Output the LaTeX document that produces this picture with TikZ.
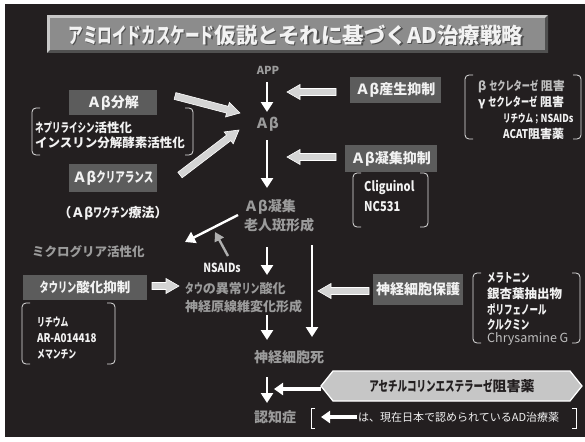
\documentclass[tikz,border=0pt]{standalone}
\usepackage{fontspec}
\usepackage{graphicx}
\setmainfont{Noto Sans CJK JP}
\usetikzlibrary{calc,arrows.meta}
\definecolor{bg}{RGB}{35,31,32}
\definecolor{gtext}{RGB}{155,155,155}
\definecolor{boxfill}{RGB}{92,92,92}
\definecolor{wtext}{RGB}{242,242,242}
\definecolor{fatfill}{RGB}{212,212,212}
\definecolor{brk}{RGB}{225,225,225}
\definecolor{tface}{RGB}{140,140,140}
\definecolor{tlight}{RGB}{200,200,200}
\definecolor{tdark}{RGB}{80,80,80}
\definecolor{hexfill}{RGB}{198,198,198}
\definecolor{narrow}{RGB}{175,175,175}
\definecolor{ltgray}{RGB}{190,190,190}
\newcommand\fsz[1]{\fontsize{#1}{#1}\selectfont}
\newcommand\hk[1]{\scalebox{0.68}[1]{#1}}
\newcommand\cn[1]{\scalebox{0.82}[1]{#1}}
\newcommand\fatarrow[2]{%
  \coordinate (fa-h) at ($(#2)!13pt!(#1)$);
  \filldraw[fatstyle] ($(#1)!3.5pt!-90:(#2)$) -- ($(fa-h)!3.5pt!-90:(#2)$) --
    ($(fa-h)!7.5pt!-90:(#2)$) -- (#2) -- ($(fa-h)!7.5pt!90:(#2)$) --
    ($(fa-h)!3.5pt!90:(#2)$) -- ($(#1)!3.5pt!90:(#2)$) -- cycle;}
\newcommand\bracketpair[4]{%
  \draw[brkstyle] (#1+8,#2) -- (#1,#2) -- (#1,#4) -- (#1+8,#4);
  \draw[brkstyle] (#3-8,#2) -- (#3,#2) -- (#3,#4) -- (#3-8,#4);}
\tikzset{
  fatstyle/.style={fill=fatfill, draw=white, line width=0.6pt, line join=miter},
  brkstyle/.style={draw=brk, line width=0.8pt, rounded corners=4pt},
  wa/.style={draw=white, line width=2.6pt, -{Triangle[width=12pt,length=10pt]}},
  wthick/.style={draw=white, line width=4.5pt, -{Triangle[width=12pt,length=9pt]}},
  ga/.style={draw=narrow, line width=2.4pt, -{Triangle[width=10pt,length=9pt]}},
  gt/.style={text=gtext, font=\bfseries\fsz{14}, inner sep=0pt},
  wt/.style={text=wtext, font=\bfseries\fsz{12.5}, inner sep=0pt, anchor=west},
  dbox/.style={fill=boxfill, text=wtext, font=\bfseries\fsz{14}, inner sep=0pt},
}
\begin{document}
\begin{tikzpicture}[x=1pt,y=-1pt]
\useasboundingbox (0,0) rectangle (585,441);
\fill[white] (0,0) rectangle (585,441);
\fill[bg] (5,4) rectangle (585,437);

% title bar
\fill[tlight] (47,15) rectangle (548,53);
\fill[tdark] (47,53) -- (548,53) -- (548,15) -- (545,18) -- (545,50) -- (50,50) -- cycle;
\fill[tface] (50,18) rectangle (545,50);
\node[text=tdark, font=\bfseries\fsz{21.5}, inner sep=0pt] (titleshadow) at (297.2,36.2) {\hk{アミロイドカスケード}仮説とそれに基づくAD治療戦略};
\node[text=wtext, font=\bfseries\fsz{21.5}, inner sep=0pt] (title) at (296,35) {\hk{アミロイドカスケード}仮説とそれに基づくAD治療戦略};

% central column
\node[gt, font=\bfseries\fsz{11}] (app) at (268,70) {APP};
\node[gt] (ab) at (267,124) {Ａβ};
\node[gt, anchor=west] (abagg1) at (244,207) {Ａβ凝集};
\node[gt, anchor=west] (abagg2) at (244,225) {老人斑形成};
\node[gt, font=\bfseries\fsz{13}, anchor=west] (tau1) at (185,289) {\hk{タウ}の異常\hk{リン}酸化};
\node[gt, font=\bfseries\fsz{13}, anchor=west] (tau2) at (185,307) {神経原線維変化形成};
\node[gt] (shi) at (289,357) {神経細胞死};
\node[gt] (ninchi) at (275,417) {認知症};
\node[gt, font=\bfseries\fsz{12.5}, anchor=west] (micro) at (32,252) {ミクログリア活性化};
\node[text=wtext, font=\bfseries\fsz{12.5}, inner sep=0pt] (nsaids) at (222,268) {\cn{NSAIDs}};

% left boxes
\node[dbox, minimum width=88, minimum height=25] (bunkai) at (113,102.5) {Ａβ分解};
\node[dbox, minimum width=88, minimum height=28] (clear) at (113,178) {Ａβ\hk{クリアランス}};
\node[text=wtext, font=\bfseries\fsz{13}, inner sep=0pt] (vaccine) at (113,213) {（Ａβ\hk{ワクチン}療法）};
\node[dbox, font=\bfseries\fsz{13.5}, minimum width=124, minimum height=25] (taubox) at (85,287.5) {\hk{タウリン}酸化抑制};

\bracketpair{32}{108}{193}{155}
\node[wt] (nep) at (35,128) {\hk{ネプリライシン}活性化};
\node[wt] (ins) at (35,143) {インスリン分解酵素活性化};

\bracketpair{22}{303}{115}{364}
\node[wt, font=\bfseries\fsz{11.5}] (li1) at (37,322) {\hk{リチウム}};
\node[wt, font=\bfseries\fsz{12}] (ar) at (37,338) {\cn{AR-A014418}};
\node[wt, font=\bfseries\fsz{11.5}] (mem) at (37,354) {\hk{メマンチン}};

% right boxes
\node[dbox, minimum width=91, minimum height=26] (sansei) at (395.5,90) {Ａβ産生抑制};
\node[dbox, minimum width=92, minimum height=27] (gyoshu) at (391,158.5) {Ａβ凝集抑制};
\node[dbox, minimum width=90, minimum height=31] (hogo) at (418,289.5) {神経細胞保護};

\bracketpair{465}{75}{581}{139}
\node[wt, font=\bfseries\fsz{12}, text=ltgray] (bsec) at (478,86) {β \hk{セクレターゼ} 阻害};
\node[wt, font=\bfseries\fsz{12}] (gsec) at (478,102) {γ \hk{セクレターゼ} 阻害};
\node[wt, font=\bfseries\fsz{11}] (lins) at (503,119) {\hk{リチウム}\hk{；}\cn{NSAIDs}};
\node[wt, font=\bfseries\fsz{12}] (acat) at (503,134) {\cn{ACAT}阻害薬};

\bracketpair{353}{173}{428}{227}
\node[wt, font=\bfseries\fsz{13.5}] (cli) at (364,188) {\cn{Cliguinol}};
\node[wt, font=\bfseries\fsz{13.5}] (nc) at (364,206) {\cn{NC531}};

\bracketpair{473}{273}{580}{343}
\node[wt] (mela) at (487,278) {\hk{メラトニン}};
\node[wt] (ginkgo) at (487,294) {銀杏葉抽出物};
\node[wt] (poly) at (487,309) {\hk{ポリフェノール}};
\node[wt] (curc) at (487,325) {\hk{クルクミン}};
\node[wt, font=\fsz{12.5}, text=ltgray] (chry) at (487,339) {Chrysamine G};

% hexagon
\filldraw[fill=hexfill, draw=white, line width=1.3pt] (321,386) -- (333,371) -- (570,371) -- (582,386) -- (570,401) -- (333,401) -- cycle;
\node[text=bg, font=\bfseries\fsz{14}, inner sep=0pt] (ache) at (452,386) {\hk{アセチルコリンエステラーゼ}阻害薬};

% legend
\draw[white, line width=0.9pt] (315,408) -- (311,408) -- (311,428) -- (315,428);
\draw[white, line width=0.9pt] (572,408) -- (576,408) -- (576,428) -- (572,428);
\node[text=wtext, font=\fsz{11}, inner sep=0pt, anchor=west] (legend) at (358,417) {は、現在日本で認められているAD治療薬};

% coordinates
\coordinate (c1) at (267,82);   \coordinate (c2) at (267,112);
\coordinate (c3) at (267,140);  \coordinate (c4) at (267,188);
\coordinate (c5) at (267,247);  \coordinate (c6) at (267,275);
\coordinate (c7) at (267,315);  \coordinate (c8) at (267,340);
\coordinate (c9) at (312,245);  \coordinate (c10) at (312,337);
\coordinate (c11) at (267,377); \coordinate (c12) at (267,403);
\coordinate (m1) at (238,215);  \coordinate (m2) at (185,242);
\coordinate (n1) at (228,256);  \coordinate (n2) at (215,232);
\coordinate (f1a) at (175,96);  \coordinate (f1b) at (240,113);
\coordinate (f2a) at (180,175); \coordinate (f2b) at (239,130);
\coordinate (f3a) at (336,92);  \coordinate (f3b) at (287,92);
\coordinate (f4a) at (336,157); \coordinate (f4b) at (287,157);
\coordinate (f5a) at (152,286); \coordinate (f5b) at (179,286);
\coordinate (f6a) at (369,291); \coordinate (f6b) at (318,291);
\coordinate (h1) at (321,389);  \coordinate (h2) at (274,389);
\coordinate (l1) at (357,417);  \coordinate (l2) at (321,417);

% arrows
\draw[wa] (c1) -- (c2);
\draw[wa] (c3) -- (c4);
\draw[wa] (c5) -- (c6);
\draw[wa] (c7) -- (c8);
\draw[wa] (c9) -- (c10);
\draw[wa] (c11) -- (c12);
\draw[wa, line width=2.4pt] (m1) -- (m2);
\draw[ga] (n1) -- (n2);
\fatarrow{f1a}{f1b}
\fatarrow{f2a}{f2b}
\fatarrow{f3a}{f3b}
\fatarrow{f4a}{f4b}
\fatarrow{f5a}{f5b}
\fatarrow{f6a}{f6b}
\draw[wthick] (h1) -- (h2);
\draw[wthick] (l1) -- (l2);
\end{tikzpicture}
\end{document}
